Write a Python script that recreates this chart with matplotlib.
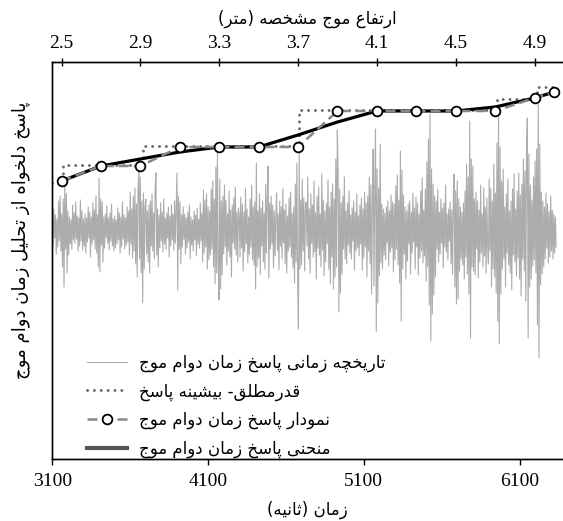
import matplotlib
matplotlib.use("Agg")
import numpy as np
import matplotlib.pyplot as plt

# --- small shaper for persian text (matplotlib has no arabic shaping) ---
FORMS = {
    '\u0627': (0xFE8D, 0xFE8E),
    '\u0628': (0xFE8F, 0xFE90, 0xFE91, 0xFE92),
    '\u067E': (0xFB56, 0xFB57, 0xFB58, 0xFB59),
    '\u062A': (0xFE95, 0xFE96, 0xFE97, 0xFE98),
    '\u062B': (0xFE99, 0xFE9A, 0xFE9B, 0xFE9C),
    '\u062C': (0xFE9D, 0xFE9E, 0xFE9F, 0xFEA0),
    '\u0686': (0xFB7A, 0xFB7B, 0xFB7C, 0xFB7D),
    '\u062D': (0xFEA1, 0xFEA2, 0xFEA3, 0xFEA4),
    '\u062E': (0xFEA5, 0xFEA6, 0xFEA7, 0xFEA8),
    '\u062F': (0xFEA9, 0xFEAA),
    '\u0631': (0xFEAD, 0xFEAE),
    '\u0632': (0xFEAF, 0xFEB0),
    '\u0633': (0xFEB1, 0xFEB2, 0xFEB3, 0xFEB4),
    '\u0634': (0xFEB5, 0xFEB6, 0xFEB7, 0xFEB8),
    '\u0635': (0xFEB9, 0xFEBA, 0xFEBB, 0xFEBC),
    '\u0637': (0xFEC1, 0xFEC2, 0xFEC3, 0xFEC4),
    '\u0639': (0xFEC9, 0xFECA, 0xFECB, 0xFECC),
    '\u0641': (0xFED1, 0xFED2, 0xFED3, 0xFED4),
    '\u0642': (0xFED5, 0xFED6, 0xFED7, 0xFED8),
    '\u0644': (0xFEDD, 0xFEDE, 0xFEDF, 0xFEE0),
    '\u0645': (0xFEE1, 0xFEE2, 0xFEE3, 0xFEE4),
    '\u0646': (0xFEE5, 0xFEE6, 0xFEE7, 0xFEE8),
    '\u0647': (0xFEE9, 0xFEEA, 0xFEEB, 0xFEEC),
    '\u0648': (0xFEED, 0xFEEE),
    '\u06CC': (0xFBFC, 0xFBFD, 0xFBFE, 0xFBFF),
}


def fa(text):
    text = text.replace('\u064A', '\u06CC')
    out = []
    for i, ch in enumerate(text):
        if ch not in FORMS:
            out.append(ch)
            continue
        prev = text[i-1] if i > 0 else ''
        nxt = text[i+1] if i+1 < len(text) else ''
        f = FORMS[ch]
        jp = prev in FORMS and len(FORMS[prev]) == 4
        jn = nxt in FORMS and len(f) == 4
        if jp and jn:
            g = f[3]
        elif jp:
            g = f[1]
        elif jn:
            g = f[2]
        else:
            g = f[0]
        out.append(chr(g))
    s = ''.join(out)[::-1]
    return s.translate(str.maketrans('()', ')('))


# --- data ---
t0, dt = 3100, 5          # time history, one value every 5 s (one row = 200 s)
response = [
    12, -16, 20, -9, 14, -25, 10, -18, 28, -12, 33, -22, 15, -38, 30, -58, 46, -20, 35, -44,
    18, -26, 12, -15, 9, -20, 24, -11, 16, -14, 27, -10, 13, -22, 11, -17, 29, -12, 18, -21,
    10, -17, 15, -24, 11, -13, 22, -9, 17, -28, 12, -15, 26, -11, 19, -20, 33, -24, 14, -38,
    51, -43, 30, -16, 27, -33, 12, -19, 15, -9, 23, -14, 11, -21, 16, -12, 25, -17, 10, -22,
    13, -19, 9, -15, 21, -11, 16, -24, 12, -18, 27, -10, 14, -20, 11, -16, 22, -13, 18, -26,
    37, -15, 20, -29, 33, -22, 41, -35, 25, -48, 38, 59, -30, 52, -44, 28, -74, 36, -40, 22,
    30, -25, 18, -33, 24, -44, 28, -17, 35, -22, 16, -30, 41, 56, -26, 20, -38, 14, -19, 26,
    -12, 17, -23, 30, -15, 11, -20, 16, -9, 22, -28, 13, -17, 24, -11, 15, -21, 28, -14, 19,
    56, -61, 33, -20, 27, -35, 14, -18, 22, -10, 15, -25, 11, -19, 17, -13, 24, -30, 12, -16,
    9, -22, 18, -11, 14, -27, 21, -15, 10, -19, 26, -12, 16, -33, 39, -24, 29, -18, 35, -40,
    22, -31, 18, -26, 40, -20, 48, -38, 30, -55, 62, -44, 76, -35, -71, 50, -60, 28, -46, 33,
    -25, 44, -18, 29, -36, 15, -22, 38, -28, 19, -48, 24, -14, 31, -20, 42, -26, 17, -33, 21,
    14, -28, 32, -19, 25, -42, 17, -23, 41, -15, 20, -34, 12, -26, 30, -18, 44, -31, 22, -36,
    27, -60, 66, -38, 18, -29, 35, -45, 21, -17, 28, -33, 16, -40, 45, -24, 30, 63, -49, 26,
    -20, 33, -15, 24, -39, 18, -27, 12, 36, -21, 15, -41, 28, -17, 22, -30, 40, -14, 19, -35,
    25, -44, 13, -22, 31, -18, 37, -28, 16, -39, 22, -54, 45, -33, 66, -48, -100, 76, -40, 29,
    -36, 50, -22, 31, -42, 18, 27, -17, 52, -30, 20, -44, 35, -14, 24, -28, 48, -23, 16, -50,
    33, -19, 42, -26, 15, -38, 55, -21, 29, -47, 18, -33, 26, -15, 49, -40, 22, -55, 37, -28,
    45, -60, 30, -48, 70, -38, 99, 55, -83, 40, -64, 26, -45, 33, -20, 52, -30, 18, -35, 26,
    -16, 38, -24, 14, -30, 21, -12, 28, -41, 17, -22, 35, -19, 13, -27, 24, -15, 31, -41, 20,
    -29, 37, -18, 26, -48, 33, -22, 52, -35, 44, -65, 28, 80, -57, 38, 100, -103, 60, -74, 41,
    -47, 85, -34, 25, -40, 20, -26, 16, -31, 22, -14, 28, -37, 18, -23, 34, -19, 27, -43, 25,
    -31, 43, -20, 54, -36, 29, -54, 78, -92, 59, -40, 34, -25, 22, -50, 18, -32, 25, -15, 28,
    -45, 17, -24, 36, -13, 21, -40, 32, -18, 26, -46, 15, -29, 38, -22, 51, -34, 19, -27, 40,
    -52, 67, -38, 90, -76, 115, -112, 60, -85, 45, -66, 33, -48, 28, -20, 40, -33, 17, -25, 30,
    -14, 21, -39, 26, -18, 44, -23, 15, -31, 20, -12, 27, -35, 19, -45, 32, 55, -58, 38, -75,
    48, -70, 30, -42, 22, -30, 17, -36, 26, -50, 38, -28, 65, -45, 52, -65, 108, -109, 70, -38,
    63, -42, 30, -46, 37, -20, 28, -49, 19, -33, 44, -24, 15, -38, 41, -27, 22, -44, 31, -17,
    -35, 50, -22, 41, -58, 28, -40, 65, -48, 36, -64, 86, -92, 118, -115, 82, -65, 48, -40, 60,
    -30, 22, -58, 35, -24, 50, -36, 18, -44, 28, -61, 40, -26, 55, -33, 20, -47, 38, -29, 56,
    -50, 34, -67, 45, -30, 70, -42, 58, -72, 83, 111, -109, 75, -58, 44, -50, 29, -37, 52, -31,
    68, -44, 80, -96, 125, -129, 85, -56, 37, -45, 28, -38, 22, -30, 36, -19, 25, -34, 17, -28,
    33, -22, 19, -30, 15, -24, 12, -18,
]
time = t0 + dt * np.arange(len(response))

# running absolute maximum (step)
max_t = [3100, 3171, 3681, 4684, 5954, 6211, 6340]
max_val = [46, 64, 83, 119, 130, 142, 142]

# duration response vs significant wave height
hs = [2.5, 2.7, 2.9, 3.1, 3.3, 3.5, 3.7, 3.9, 4.1, 4.3, 4.5, 4.7, 4.9, 5.0]
et_pts = [48, 63, 63, 82, 82, 82, 82, 118, 118, 118, 118, 118, 131, 137]
et_curve = [48, 63, 70, 77, 82, 82, 94, 107, 118, 118, 118, 122, 131, 137]

lab_hist = fa('تاریخچه زمانی پاسخ زمان دوام موج')
lab_max = fa('قدرمطلق- بیشینه پاسخ')
lab_pts = fa('نمودار پاسخ زمان دوام موج')
lab_curve = fa('منحنی پاسخ زمان دوام موج')

plt.rcParams['font.family'] = ['Liberation Serif', 'DejaVu Sans']
plt.rcParams['axes.linewidth'] = 1.0
persian = ['DejaVu Sans']

fig = plt.figure(figsize=(5.63, 5.21), dpi=100)
ax = fig.add_axes([0.093, 0.119, 0.907, 0.762])

h1, = ax.plot(time, response, color='#acacac', lw=0.8, label=lab_hist)
h2, = ax.step(max_t, max_val, where='post', color='#6a6a6a', lw=2.1,
              linestyle=(0, (0.05, 2.3)), dash_capstyle='round', label=lab_max)
ax.set_xlim(3100, 6379)
ax.set_ylim(-230, 167)
ax.set_yticks([])
ax.set_xticks([3100, 4100, 5100, 6100])
ax.tick_params(axis='x', direction='out', length=4, width=1, labelsize=14, pad=6)
ax.spines['right'].set_visible(False)
ax.set_xlabel(fa('زمان (ثانیه)'), family=persian, fontsize=12, labelpad=8)
ax.set_ylabel(fa('پاسخ دلخواه از تحلیل زمان دوام موج'), family=persian, fontsize=13)
ax.yaxis.set_label_coords(-0.043, 0.55)

ax2 = ax.twiny()
h3, = ax2.plot(hs, et_pts, color='#888888', lw=1.8, dashes=(4, 2), marker='o',
               markersize=7, markerfacecolor='white', markeredgecolor='black',
               markeredgewidth=1.3, label=lab_pts)
h4, = ax2.plot(hs, et_curve, color='black', lw=2.3, label=lab_curve, zorder=1)
ax2.set_xlim(2.4533, 5.0444)
ax2.set_xticks([2.5, 2.9, 3.3, 3.7, 4.1, 4.5, 4.9])
ax2.tick_params(axis='x', direction='inout', length=6, width=1, labelsize=14, pad=4)
ax2.spines['right'].set_visible(False)
ax2.set_xlabel(fa('ارتفاع موج مشخصه (متر)'), family=persian, fontsize=12, labelpad=8)

leg = ax2.legend(handles=[h1, h2, h3, h4], loc='lower left', bbox_to_anchor=(0.038, -0.035),
                 frameon=False, prop={'family': persian, 'size': 12},
                 handlelength=2.4, handletextpad=0.75, labelspacing=0.62)
leg.get_lines()[3].set_color('#555555')
leg.get_lines()[3].set_linewidth(3)

fig.savefig('out.png', dpi=100)
